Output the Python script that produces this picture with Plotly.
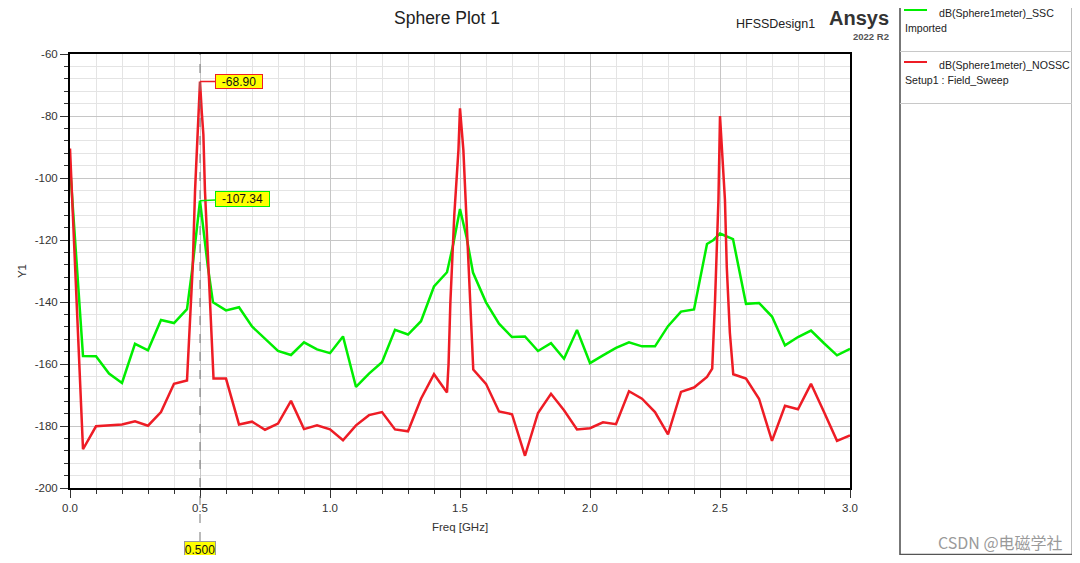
import plotly.graph_objects as go

# ---------------- data ----------------
freq_ssc = [0.00, 0.05, 0.10, 0.15, 0.20, 0.25, 0.30, 0.35, 0.40, 0.45, 0.47, 0.50, 0.53,
            0.55, 0.60, 0.65, 0.70, 0.75, 0.80, 0.85, 0.90, 0.95, 1.00, 1.05, 1.10, 1.15,
            1.20, 1.25, 1.30, 1.35, 1.40, 1.45, 1.475, 1.50, 1.525, 1.55, 1.60, 1.65, 1.70,
            1.75, 1.80, 1.85, 1.90, 1.95, 2.00, 2.05, 2.10, 2.15, 2.20, 2.25, 2.30, 2.35,
            2.40, 2.45, 2.475, 2.50, 2.525, 2.55, 2.60, 2.65, 2.70, 2.75, 2.80, 2.85, 2.90,
            2.95, 3.00]
db_ssc = [-96.0, -157.4, -157.5, -163.1, -166.1, -153.5, -155.6, -145.8, -146.8, -142.3,
          -129.5, -107.34, -128.5, -140.1, -142.7, -141.7, -147.9, -151.7, -155.8, -157.1,
          -153.0, -155.3, -156.5, -151.1, -167.4, -163.1, -159.4, -149.0, -150.5, -146.2,
          -135.0, -130.4, -121.0, -110.0, -119.0, -130.5, -140.1, -147.0, -151.3, -151.1,
          -155.8, -153.3, -158.3, -149.0, -159.7, -157.2, -154.8, -153.0, -154.3, -154.3,
          -147.8, -143.1, -142.4, -121.3, -120.0, -117.9, -118.8, -119.7, -140.6, -140.3,
          -144.7, -154.0, -151.3, -149.2, -153.3, -157.2, -155.1]

freq_nossc = [0.00, 0.05, 0.10, 0.15, 0.20, 0.25, 0.30, 0.35, 0.40, 0.45, 0.472, 0.481,
              0.487, 0.492, 0.50, 0.507, 0.513, 0.519, 0.532, 0.552, 0.60, 0.65, 0.70, 0.75,
              0.80, 0.85, 0.90, 0.95, 1.00, 1.05, 1.10, 1.15, 1.20, 1.25, 1.30, 1.35, 1.40,
              1.45, 1.456, 1.463, 1.478, 1.486, 1.494, 1.50, 1.513, 1.52, 1.538, 1.551,
              1.60, 1.65, 1.70, 1.75, 1.80, 1.85, 1.90, 1.95, 2.00, 2.05, 2.10, 2.15, 2.20,
              2.25, 2.30, 2.35, 2.40, 2.45, 2.47, 2.481, 2.494, 2.50, 2.519, 2.526, 2.538,
              2.551, 2.60, 2.65, 2.70, 2.75, 2.80, 2.85, 2.90, 2.95, 3.00]
db_nossc = [-90.5, -187.5, -180.1, -179.9, -179.5, -178.5, -179.9, -175.5, -166.4, -165.3,
            -128.6, -104.0, -94.0, -86.0, -68.90, -79.0, -86.0, -104.0, -128.6, -164.7,
            -164.7, -179.5, -178.6, -181.2, -179.2, -171.9, -181.0, -179.8, -181.1, -184.6,
            -179.8, -176.5, -175.5, -181.1, -181.7, -171.2, -163.3, -169.2, -160.0, -140.0,
            -112.0, -102.0, -91.0, -77.5, -91.0, -104.0, -139.0, -161.8, -166.4, -175.3,
            -176.2, -189.6, -175.8, -169.6, -174.9, -181.1, -180.7, -178.8, -179.4, -168.8,
            -171.2, -175.5, -182.7, -169.0, -167.6, -164.2, -161.5, -139.4, -107.0, -80.0,
            -107.0, -128.6, -150.0, -163.3, -164.7, -171.2, -184.8, -173.5, -174.6, -166.4,
            -175.5, -184.8, -183.0]

name_ssc = "dB(Sphere1meter)_SSC"
src_ssc = "Imported"
name_nossc = "dB(Sphere1meter)_NOSSC"
src_nossc = "Setup1 : Field_Sweep"

marker_freq = 0.5
marker_nossc = -68.90
marker_ssc = -107.34

x_ticks = [0.0, 0.5, 1.0, 1.5, 2.0, 2.5, 3.0]
y_ticks = [-60, -80, -100, -120, -140, -160, -180, -200]

# ---------------- layout helpers ----------------
OFF = 8                      # page body margin
W, H = 1080 - 2 * OFF, 563 - 2 * OFF
L, R, T, B = 70, 850, 54, 488   # plot area in page pixels
def px(x):
    return (x - L) / (R - L)
def py(y):
    return (B - y) / (B - T)

GREEN = "#00ee00"
RED = "#ee1c25"
FONT = "Arial, Liberation Sans, sans-serif"

fig = go.Figure()
fig.add_trace(go.Scatter(x=freq_ssc, y=db_ssc, mode="lines", name=name_ssc,
                         line=dict(color=GREEN, width=2.5), showlegend=False))
fig.add_trace(go.Scatter(x=freq_nossc, y=db_nossc, mode="lines", name=name_nossc,
                         line=dict(color=RED, width=2.5), showlegend=False))

axis_common = dict(
    showline=True, linecolor="black", linewidth=2, mirror=True,
    showgrid=True, gridcolor="#c6c6c6", gridwidth=1,
    ticks="outside", ticklen=8, tickcolor="#333", tickwidth=1,
    tickfont=dict(family=FONT, size=11.5, color="#333"),
    zeroline=False,
)
fig.update_xaxes(range=[0, 3], tickvals=x_ticks,
                 ticktext=[f"{v:.1f}" for v in x_ticks],
                 minor=dict(dtick=0.1, showgrid=True, gridcolor="#e4e4e4",
                            ticks="outside", ticklen=4, tickcolor="#333"),
                 title=dict(text="Freq [GHz]", font=dict(family=FONT, size=11.5, color="#333"),
                            standoff=10),
                 **axis_common)
fig.update_yaxes(range=[-200, -60], tickvals=y_ticks,
                 ticktext=[f"{v:d}" for v in y_ticks],
                 minor=dict(dtick=4, showgrid=True, gridcolor="#e4e4e4",
                            ticks="outside", ticklen=4, tickcolor="#333"),
                 title=dict(text="Y1", font=dict(family=FONT, size=11.5, color="#333"),
                            standoff=6),
                 **axis_common)

shapes = []
# marker dashed line
shapes.append(dict(type="line", xref="x", yref="paper", x0=marker_freq, x1=marker_freq,
                   y0=py(541), y1=1, line=dict(color="#777", width=1, dash="dash"),
                   layer="above"))
# legend panel
shapes.append(dict(type="line", xref="paper", yref="paper", x0=px(900), x1=px(900),
                   y0=py(563), y1=py(0), line=dict(color="#777", width=2)))
shapes.append(dict(type="line", xref="paper", yref="paper", x0=px(1071.5), x1=px(1071.5),
                   y0=py(563), y1=py(0), line=dict(color="#bbb", width=1)))
shapes.append(dict(type="line", xref="paper", yref="paper", x0=px(900), x1=px(1072),
                   y0=py(554.5), y1=py(554.5), line=dict(color="#555", width=1.5)))
for yy in (51.5, 103.5):
    shapes.append(dict(type="line", xref="paper", yref="paper", x0=px(900), x1=px(1072),
                       y0=py(yy), y1=py(yy), line=dict(color="#c8c8c8", width=1)))
shapes.append(dict(type="line", xref="paper", yref="paper", x0=px(904), x1=px(927),
                   y0=py(10), y1=py(10), line=dict(color=GREEN, width=2)))
shapes.append(dict(type="line", xref="paper", yref="paper", x0=px(904), x1=px(927),
                   y0=py(62), y1=py(62), line=dict(color=RED, width=2)))

ann = []
def text(x, y, s, size=11, color="#222", xanchor="left", bold=False, family=FONT):
    ann.append(dict(xref="paper", yref="paper", x=px(x), y=py(y), text=f"<b>{s}</b>" if bold else s,
                    showarrow=False, xanchor=xanchor, yanchor="middle",
                    font=dict(family=family, size=size, color=color)))

text(447, 18, "Sphere Plot 1", size=17.5, color="#222", xanchor="center")
text(775, 24, "HFSSDesign1", size=12.5, color="#222", xanchor="center")
text(891, 18, "Ansys", size=20, color="#333", xanchor="right", bold=True)
text(891, 36, "2022 R2", size=9.5, color="#555", xanchor="right", bold=True)
text(937, 13, name_ssc, size=10.6, color="#222")
text(903, 28, src_ssc, size=10.6, color="#222")
text(937, 65, name_nossc, size=10.6, color="#222")
text(903, 80, src_nossc, size=10.6, color="#222")
text(1065, 542, "CSDN @电磁学社", size=16, color="#9a9a9a", xanchor="right",
     family="Noto Sans CJK SC, sans-serif")

# marker callouts
ann.append(dict(x=marker_freq, y=marker_nossc, xref="x", yref="y", text=f"{marker_nossc:.2f}",
                showarrow=True, arrowhead=0, arrowwidth=1.5, arrowcolor=RED, ax=39, ay=0,
                width=46, height=13, bgcolor="#ffff00", bordercolor=RED, borderwidth=1,
                borderpad=0, font=dict(family=FONT, size=12, color="#111")))
ann.append(dict(x=marker_freq, y=marker_ssc, xref="x", yref="y", text=f"{marker_ssc:.2f}",
                showarrow=True, arrowhead=0, arrowwidth=1.5, arrowcolor=GREEN, ax=42, ay=-2,
                width=53, height=14, bgcolor="#ffff00", bordercolor=GREEN, borderwidth=1,
                borderpad=0, font=dict(family=FONT, size=12, color="#111")))
ann.append(dict(x=marker_freq, y=py(549.5), xref="x", yref="paper", text=f"{marker_freq:.3f}",
                showarrow=False, xanchor="center", yanchor="middle",
                width=30, height=15, bgcolor="#ffff00", bordercolor="#999", borderwidth=1,
                borderpad=0, font=dict(family=FONT, size=12, color="#111")))

fig.update_layout(
    width=W, height=H,
    margin=dict(l=L - OFF, r=W - (R - OFF), t=T - OFF, b=H - (B - OFF)),
    paper_bgcolor="white", plot_bgcolor="white",
    shapes=shapes, annotations=ann,
    font=dict(family=FONT),
)

fig.write_html("out.html")
